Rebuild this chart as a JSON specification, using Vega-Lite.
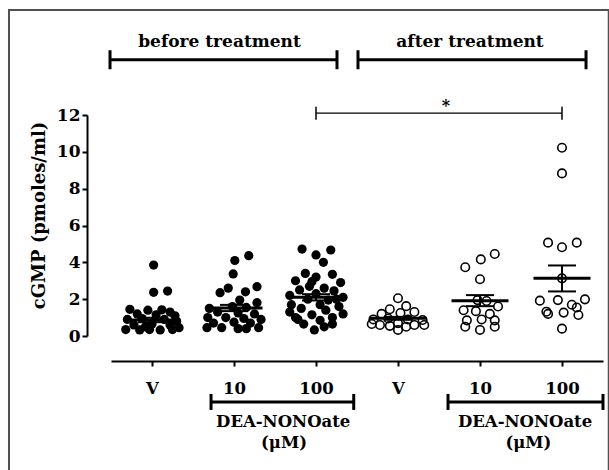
{
  "$schema": "https://vega.github.io/schema/vega-lite/v6.json",
  "width": 492,
  "height": 221,
  "autosize": {"type": "none"},
  "padding": {"left": 111, "top": 115, "right": 6, "bottom": 134},
  "background": "white",
  "config": {"view": {"stroke": null}, "font": "DejaVu Serif"},
  "datasets": {
    "before": [
      {"x": 0.02, "y": 3.85}, {"x": 0.02, "y": 2.37}, {"x": 0.19, "y": 2.44}, {"x": -0.27, "y": 1.45},
      {"x": -0.05, "y": 1.4}, {"x": 0.12, "y": 1.42}, {"x": 0.22, "y": 1.3}, {"x": -0.18, "y": 1.2},
      {"x": 0.05, "y": 1.15}, {"x": -0.3, "y": 0.9}, {"x": -0.12, "y": 0.95}, {"x": 0.15, "y": 0.9},
      {"x": 0.3, "y": 0.8}, {"x": -0.22, "y": 0.6}, {"x": 0.0, "y": 0.65}, {"x": 0.22, "y": 0.6},
      {"x": -0.32, "y": 0.35}, {"x": -0.15, "y": 0.33}, {"x": -0.03, "y": 0.35}, {"x": 0.1, "y": 0.33},
      {"x": 0.25, "y": 0.35}, {"x": 0.33, "y": 0.45}, {"x": -0.08, "y": 0.5}, {"x": 0.28, "y": 1.1},
      {"x": 1.01, "y": 4.1}, {"x": 1.18, "y": 4.36}, {"x": 0.99, "y": 3.37}, {"x": 0.83, "y": 2.35},
      {"x": 0.93, "y": 2.6}, {"x": 1.28, "y": 2.68}, {"x": 1.14, "y": 2.4}, {"x": 1.07, "y": 1.95},
      {"x": 0.7, "y": 1.5}, {"x": 1.28, "y": 1.81}, {"x": 0.98, "y": 1.6}, {"x": 1.15, "y": 1.55},
      {"x": 0.8, "y": 1.3}, {"x": 1.05, "y": 1.25}, {"x": 1.25, "y": 1.2}, {"x": 0.68, "y": 1.0},
      {"x": 0.9, "y": 1.0}, {"x": 1.12, "y": 0.95}, {"x": 1.33, "y": 0.9}, {"x": 0.75, "y": 0.7},
      {"x": 1.0, "y": 0.75}, {"x": 1.2, "y": 0.7}, {"x": 0.85, "y": 0.45}, {"x": 1.05, "y": 0.4},
      {"x": 1.3, "y": 0.45}, {"x": 0.67, "y": 0.45}, {"x": 1.15, "y": 0.4},
      {"x": 1.83, "y": 4.72}, {"x": 2.18, "y": 4.67}, {"x": 2.0, "y": 4.4}, {"x": 2.09, "y": 4.0},
      {"x": 1.87, "y": 3.4}, {"x": 2.2, "y": 3.35}, {"x": 2.0, "y": 3.2}, {"x": 1.75, "y": 3.0},
      {"x": 2.3, "y": 2.9}, {"x": 1.95, "y": 2.95}, {"x": 2.1, "y": 2.6}, {"x": 1.8, "y": 2.5},
      {"x": 2.22, "y": 2.45}, {"x": 1.68, "y": 2.2}, {"x": 2.0, "y": 2.3}, {"x": 2.33, "y": 2.1},
      {"x": 1.9, "y": 2.0}, {"x": 2.15, "y": 1.95}, {"x": 1.7, "y": 1.7}, {"x": 2.05, "y": 1.7},
      {"x": 2.28, "y": 1.6}, {"x": 1.82, "y": 1.5}, {"x": 2.12, "y": 1.4}, {"x": 1.68, "y": 1.3},
      {"x": 2.33, "y": 1.2}, {"x": 1.95, "y": 1.15}, {"x": 2.2, "y": 1.0}, {"x": 1.78, "y": 0.9},
      {"x": 2.05, "y": 0.85}, {"x": 1.85, "y": 0.65}, {"x": 2.2, "y": 0.65}, {"x": 1.98, "y": 0.33},
      {"x": 2.1, "y": 0.5}, {"x": 1.75, "y": 1.0}, {"x": 2.25, "y": 2.0}, {"x": 1.92, "y": 2.7}
    ],
    "after": [
      {"x": 3.0, "y": 2.05}, {"x": 2.9, "y": 1.45}, {"x": 3.1, "y": 1.62}, {"x": 2.8, "y": 1.2},
      {"x": 3.2, "y": 1.3}, {"x": 3.03, "y": 1.25}, {"x": 2.7, "y": 0.9}, {"x": 3.3, "y": 0.87},
      {"x": 2.88, "y": 0.95}, {"x": 3.12, "y": 0.9}, {"x": 2.78, "y": 0.6}, {"x": 3.0, "y": 0.7},
      {"x": 3.2, "y": 0.6}, {"x": 3.0, "y": 0.33}, {"x": 2.68, "y": 0.65}, {"x": 3.32, "y": 0.6},
      {"x": 2.9, "y": 0.55}, {"x": 3.1, "y": 0.5},
      {"x": 3.82, "y": 3.73}, {"x": 4.01, "y": 4.16}, {"x": 4.18, "y": 4.45}, {"x": 4.0, "y": 3.08},
      {"x": 3.97, "y": 1.95}, {"x": 4.08, "y": 1.9}, {"x": 3.8, "y": 1.4}, {"x": 4.22, "y": 1.6},
      {"x": 3.95, "y": 1.35}, {"x": 4.12, "y": 1.2}, {"x": 3.84, "y": 0.85}, {"x": 4.18, "y": 0.85},
      {"x": 4.02, "y": 0.9}, {"x": 3.82, "y": 0.5}, {"x": 4.0, "y": 0.33}, {"x": 4.18, "y": 0.5},
      {"x": 5.0, "y": 10.22}, {"x": 5.0, "y": 8.83}, {"x": 4.83, "y": 5.07}, {"x": 5.0, "y": 4.82},
      {"x": 5.18, "y": 5.07}, {"x": 5.0, "y": 3.13}, {"x": 4.73, "y": 1.92}, {"x": 4.95, "y": 1.95},
      {"x": 5.12, "y": 1.7}, {"x": 5.28, "y": 1.99}, {"x": 4.81, "y": 1.32}, {"x": 5.02, "y": 1.27},
      {"x": 5.2, "y": 1.14}, {"x": 4.83, "y": 1.2}, {"x": 5.0, "y": 0.4}, {"x": 5.18, "y": 1.55}
    ],
    "summary": [
      {"x": 0, "mean": 0.87, "lo": 0.75, "hi": 0.99},
      {"x": 1, "mean": 1.52, "lo": 1.35, "hi": 1.69},
      {"x": 2, "mean": 2.1, "lo": 1.93, "hi": 2.27},
      {"x": 3, "mean": 0.96, "lo": 0.88, "hi": 1.04},
      {"x": 4, "mean": 1.92, "lo": 1.62, "hi": 2.22},
      {"x": 5, "mean": 3.13, "lo": 2.42, "hi": 3.83}
    ],
    "topBrackets": [
      {"x": -0.512, "x2": 2.256, "y": 15},
      {"x": 2.512, "x2": 5.293, "y": 15}
    ],
    "bottomBrackets": [
      {"x": 0.72, "x2": 2.46, "y": -3.58},
      {"x": 3.61, "x2": 5.5, "y": -3.58}
    ],
    "sig": [{"x": 2.0, "x2": 5.0, "y": 12.1}],
    "star": [{"x": 3.585, "y": 12.2, "text": "*"}],
    "titles": [
      {"x": 0.823, "y": 15.69, "text": "before treatment"},
      {"x": 3.878, "y": 15.69, "text": "after treatment"}
    ],
    "dea": [
      {"x": 1.6, "y": -4.94, "text": "DEA-NONOate"},
      {"x": 4.55, "y": -4.94, "text": "DEA-NONOate"},
      {"x": 1.61, "y": -6.1, "text": "(μM)"},
      {"x": 4.59, "y": -6.1, "text": "(μM)"}
    ],
    "frame": [{"x": -1.744, "x2": 5.57, "y": 17.7, "y2": -8}]
  },
  "encoding": {
    "x": {
      "field": "x", "type": "quantitative",
      "scale": {"domain": [-0.5, 5.5], "nice": false, "zero": false},
      "axis": {
        "values": [0, 1, 2, 3, 4, 5],
        "labelExpr": "['V','10','100','V','10','100'][datum.value]",
        "offset": 25, "grid": false, "title": null,
        "domainColor": "black", "domainWidth": 2,
        "tickColor": "black", "tickWidth": 2, "tickSize": 5,
        "labelFont": "DejaVu Serif", "labelFontWeight": "bold", "labelFontSize": 16.5,
        "labelColor": "black", "labelPadding": 14, "labelFlush": false, "labelOverlap": false
      }
    },
    "y": {
      "field": "y", "type": "quantitative",
      "scale": {"domain": [0, 12], "nice": false, "zero": false},
      "axis": {
        "values": [0, 2, 4, 6, 8, 10, 12],
        "offset": 24, "grid": false,
        "domainColor": "black", "domainWidth": 2,
        "tickColor": "black", "tickWidth": 2, "tickSize": 5,
        "labelFont": "DejaVu Serif", "labelFontWeight": "bold", "labelFontSize": 17,
        "labelColor": "black", "labelPadding": 2, "labelFlush": false, "labelOverlap": false,
        "title": "cGMP (pmoles/ml)",
        "titleFont": "DejaVu Serif", "titleFontWeight": "bold", "titleFontSize": 18,
        "titleColor": "black", "titlePadding": 8, "titleY": 100
      }
    }
  },
  "layer": [
    {
      "data": {"name": "frame"},
      "mark": {"type": "rect", "fill": null, "stroke": "#505050", "strokeWidth": 2},
      "encoding": {"x2": {"field": "x2"}, "y2": {"field": "y2"}}
    },
    {
      "data": {"name": "before"},
      "mark": {"type": "circle", "size": 85, "color": "black", "opacity": 1}
    },
    {
      "data": {"name": "after"},
      "mark": {"type": "point", "shape": "circle", "size": 72, "filled": false, "stroke": "black", "strokeWidth": 1.6, "opacity": 1}
    },
    {
      "data": {"name": "summary"},
      "mark": {"type": "rule", "color": "black", "strokeWidth": 2},
      "encoding": {"y": {"field": "lo", "type": "quantitative"}, "y2": {"field": "hi"}}
    },
    {
      "data": {"name": "summary"},
      "mark": {"type": "tick", "orient": "horizontal", "size": 28, "thickness": 2, "color": "black", "opacity": 1},
      "encoding": {"y": {"field": "lo", "type": "quantitative"}}
    },
    {
      "data": {"name": "summary"},
      "mark": {"type": "tick", "orient": "horizontal", "size": 28, "thickness": 2, "color": "black", "opacity": 1},
      "encoding": {"y": {"field": "hi", "type": "quantitative"}}
    },
    {
      "data": {"name": "summary"},
      "mark": {"type": "tick", "orient": "horizontal", "size": 57, "thickness": 3, "color": "black", "opacity": 1},
      "encoding": {"y": {"field": "mean", "type": "quantitative"}}
    },
    {
      "data": {"name": "topBrackets"},
      "mark": {"type": "rule", "color": "black", "strokeWidth": 3},
      "encoding": {"x2": {"field": "x2"}}
    },
    {
      "data": {"name": "topBrackets"},
      "mark": {"type": "tick", "orient": "vertical", "size": 19, "thickness": 3, "color": "black", "opacity": 1}
    },
    {
      "data": {"name": "topBrackets"},
      "mark": {"type": "tick", "orient": "vertical", "size": 19, "thickness": 3, "color": "black", "opacity": 1},
      "encoding": {"x": {"field": "x2", "type": "quantitative"}}
    },
    {
      "data": {"name": "bottomBrackets"},
      "mark": {"type": "rule", "color": "black", "strokeWidth": 3},
      "encoding": {"x2": {"field": "x2"}}
    },
    {
      "data": {"name": "bottomBrackets"},
      "mark": {"type": "tick", "orient": "vertical", "size": 16, "thickness": 3, "color": "black", "opacity": 1}
    },
    {
      "data": {"name": "bottomBrackets"},
      "mark": {"type": "tick", "orient": "vertical", "size": 16, "thickness": 3, "color": "black", "opacity": 1},
      "encoding": {"x": {"field": "x2", "type": "quantitative"}}
    },
    {
      "data": {"name": "sig"},
      "mark": {"type": "rule", "color": "black", "strokeWidth": 1.2},
      "encoding": {"x2": {"field": "x2"}}
    },
    {
      "data": {"name": "sig"},
      "mark": {"type": "tick", "orient": "vertical", "size": 13, "thickness": 1.5, "color": "black", "opacity": 1}
    },
    {
      "data": {"name": "sig"},
      "mark": {"type": "tick", "orient": "vertical", "size": 13, "thickness": 1.5, "color": "black", "opacity": 1},
      "encoding": {"x": {"field": "x2", "type": "quantitative"}}
    },
    {
      "data": {"name": "star"},
      "mark": {"type": "text", "font": "DejaVu Serif", "fontWeight": "bold", "fontSize": 16, "align": "center", "baseline": "alphabetic", "color": "black"},
      "encoding": {"text": {"field": "text"}}
    },
    {
      "data": {"name": "titles"},
      "mark": {"type": "text", "font": "DejaVu Serif", "fontWeight": "bold", "fontSize": 17, "align": "center", "baseline": "alphabetic", "color": "black"},
      "encoding": {"text": {"field": "text"}}
    },
    {
      "data": {"name": "dea"},
      "mark": {"type": "text", "font": "DejaVu Serif", "fontWeight": "bold", "fontSize": 16.5, "align": "center", "baseline": "alphabetic", "color": "black"},
      "encoding": {"text": {"field": "text"}}
    }
  ]
}
